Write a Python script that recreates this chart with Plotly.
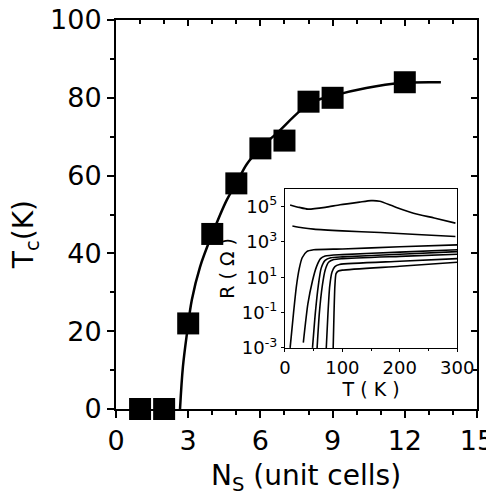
import plotly.graph_objects as go

# Main panel: Tc vs Ns
ns = [1, 2, 3, 4, 5, 6, 7, 8, 9, 12]
tc = [0, 0, 22, 45, 58, 67, 69, 79, 80, 84]

# Guide curve
fit_n = [2.66, 2.78, 2.95, 3.15, 3.49, 4.0, 4.6, 5.0, 5.44, 6.0, 6.7, 8.06, 9.0, 10.4, 11.8, 13.5]
fit_t = [0, 10.8, 19.5, 28, 36.5, 45, 53.7, 58, 63, 67, 71, 78.6, 80.5, 82.5, 83.8, 84]

# Inset: log10 R vs T curves
c1_t = [9, 25, 40, 70, 96, 130, 150, 165, 190, 224, 260, 297]
c1_r = [5.09, 4.95, 4.85, 4.95, 5.1, 5.25, 5.33, 5.3, 5.0, 4.62, 4.35, 4.06]
c2_t = [13, 30, 50, 100, 166, 230, 297]
c2_r = [3.9, 3.8, 3.72, 3.62, 3.53, 3.42, 3.3]
cA_t = [9, 15, 20, 25, 30, 38, 50, 100, 200, 300]
cA_r = [-3, -1, 0.5, 1.5, 2.1, 2.45, 2.55, 2.6, 2.72, 2.83]
cB_t = [32, 40, 48, 55, 62, 70, 100, 200, 300]
cB_r = [-2.7, -0.5, 0.8, 1.6, 2.05, 2.2, 2.28, 2.42, 2.55]
cC_t = [48, 53, 58, 63, 70, 80, 100, 200, 300]
cC_r = [-3, -1, 0.5, 1.5, 1.95, 2.1, 2.15, 2.3, 2.45]
cD_t = [56, 60, 65, 70, 76, 85, 100, 200, 300]
cD_r = [-3, -1, 0.5, 1.4, 1.85, 2.0, 2.05, 2.18, 2.3]
cE_t = [72, 75, 78, 82, 87, 95, 200, 300]
cE_r = [-3, -1, 0.5, 1.3, 1.6, 1.72, 1.9, 2.05]
cF_t = [84, 85.5, 87, 89, 93, 100, 200, 300]
cF_r = [-3, -1, 0.5, 1.2, 1.35, 1.4, 1.62, 1.85]

inset_curves = [(c1_t, c1_r), (c2_t, c2_r), (cA_t, cA_r), (cB_t, cB_r),
                (cC_t, cC_r), (cD_t, cD_r), (cE_t, cE_r), (cF_t, cF_r)]

x_ticks = [0, 3, 6, 9, 12, 15]
y_ticks = [0, 20, 40, 60, 80, 100]
y_tickvals = [1e-3, 1e-1, 1e1, 1e3, 1e5]
y_ticktext = ["10<sup>-3</sup>", "10<sup>-1</sup>", "10<sup>1</sup>", "10<sup>3</sup>", "10<sup>5</sup>"]

FONT = "DejaVu Sans"

fig = go.Figure()
fig.add_trace(go.Scatter(x=fit_n, y=fit_t, mode="lines", line=dict(color="black", width=2.5, shape="spline"),
                         showlegend=False, hoverinfo="skip"))
fig.add_trace(go.Scatter(x=ns, y=tc, mode="markers", marker=dict(symbol="square", size=22, color="black"),
                         showlegend=False, cliponaxis=False))
# invisible trace so the top/right frame axes are drawn
fig.add_trace(go.Scatter(x=[ns[0]], y=[tc[0]], mode="markers", xaxis="x3", yaxis="y3",
                         marker=dict(opacity=0), showlegend=False, hoverinfo="skip"))
for t, r in inset_curves:
    fig.add_trace(go.Scatter(x=t, y=[10 ** v for v in r], mode="lines", xaxis="x2", yaxis="y2",
                             line=dict(color="black", width=1.6, shape="spline", smoothing=0.6),
                             showlegend=False))

common_main = dict(showgrid=False, zeroline=False, showline=True, linecolor="black", linewidth=2,
                   tickcolor="black", automargin=False, ticklabeloverflow="allow")

# page body has an 8px default margin, so the figure is sized to fit the window
fig.update_layout(
    width=486, height=489,
    margin=dict(l=108, r=17, t=12, b=88),
    paper_bgcolor="white", plot_bgcolor="white",
    font=dict(family=FONT, color="black"),
    xaxis=dict(range=[0, 15], tickvals=x_ticks, ticks="outside", ticklen=7, tickwidth=2,
               tickfont=dict(size=27, family=FONT),
               minor=dict(dtick=1, ticks="outside", ticklen=4, tickwidth=1.5, tickcolor="black"),
               **common_main),
    yaxis=dict(range=[0, 100], tickvals=y_ticks, ticks="outside", ticklen=7, tickwidth=2,
               tickfont=dict(size=27, family=FONT),
               minor=dict(dtick=10, ticks="outside", ticklen=4, tickwidth=1.5, tickcolor="black"),
               **common_main),
    xaxis3=dict(range=[0, 15], tickvals=x_ticks, overlaying="x", anchor="y3", side="top",
                ticks="inside", ticklen=6, tickwidth=2, showticklabels=False,
                minor=dict(dtick=1, ticks="inside", ticklen=4, tickwidth=1.5, tickcolor="black"),
                **common_main),
    yaxis3=dict(range=[0, 100], tickvals=y_ticks, overlaying="y", anchor="x3", side="right",
                ticks="inside", ticklen=6, tickwidth=2, showticklabels=False,
                minor=dict(dtick=10, ticks="inside", ticklen=4, tickwidth=1.5, tickcolor="black"),
                **common_main),
    xaxis2=dict(domain=[0.468, 0.945], anchor="y2", range=[0, 300], tickvals=[0, 100, 200, 300],
                showgrid=False, zeroline=False, showline=True, linecolor="black", linewidth=1.2, mirror=True,
                ticks="outside", ticklen=3, tickwidth=1, tickcolor="black", automargin=False,
                ticklabeloverflow="allow",
                minor=dict(dtick=50, ticks="outside", ticklen=2, tickcolor="black"),
                tickfont=dict(size=18, family=FONT),
                title=dict(text="T ( K )", font=dict(size=19, family=FONT), standoff=4)),
    yaxis2=dict(domain=[0.157, 0.566], anchor="x2", type="log", range=[-3, 6],
                tickvals=y_tickvals, ticktext=y_ticktext, automargin=False,
                ticklabeloverflow="allow",
                showgrid=False, zeroline=False, showline=True, linecolor="black", linewidth=1.2, mirror=True,
                ticks="outside", ticklen=3, tickwidth=1, tickcolor="black",
                tickfont=dict(size=18, family=FONT),
                title=dict(text="R ( Ω )", font=dict(size=19, family=FONT), standoff=2)),
    annotations=[
        dict(text="N<sub>S</sub> (unit cells)", xref="paper", yref="paper", x=0.526, y=-0.175,
             showarrow=False, font=dict(size=28, family=FONT), xanchor="center", yanchor="middle"),
        dict(text="T<sub>c</sub>(K)", xref="paper", yref="paper", x=-0.252, y=0.447,
             showarrow=False, font=dict(size=28, family=FONT), textangle=-90,
             xanchor="center", yanchor="middle"),
    ],
)

fig.write_html("out.html")
